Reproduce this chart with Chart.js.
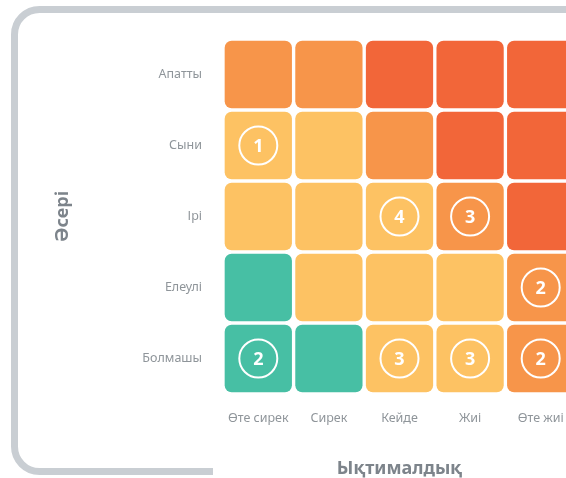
<!DOCTYPE html>
<html lang="kk">
<head>
    <meta charset="UTF-8">
    <title>Тәуекел матрицасы</title>
    <script src="https://cdn.jsdelivr.net/npm/chart.js"></script>
    <style>
        html, body {
            margin: 0;
            padding: 0;
            background: #fff;
            overflow: hidden; /* matrix runs past the right edge */
        }
        canvas { display: block; }
    </style>
</head>
<body>
    <canvas id="matrix" width="600" height="478"></canvas>
    <script>
        // Axis categories
        const likelihoodLabels = ['Өте сирек', 'Сирек', 'Кейде', 'Жиі', 'Өте жиі'];
        const impactLabels = ['Апатты', 'Сыни', 'Ірі', 'Елеулі', 'Болмашы']; // top to bottom

        // Risk level per cell (0 low .. 3 extreme), one row per impact
        const riskLevels = [
            [2, 2, 3, 3, 3],
            [1, 1, 2, 3, 3],
            [1, 1, 1, 2, 3],
            [0, 1, 1, 1, 2],
            [0, 0, 1, 1, 2]
        ];
        const levelColors = ['#47bfa4', '#fdc263', '#f7954a', '#f26639'];

        // Number of risks sitting in a cell
        const riskImpact = ['Сыни', 'Ірі', 'Ірі', 'Елеулі', 'Болмашы', 'Болмашы', 'Болмашы', 'Болмашы'];
        const riskLikelihood = ['Өте сирек', 'Кейде', 'Жиі', 'Өте жиі', 'Өте сирек', 'Кейде', 'Жиі', 'Өте жиі'];
        const riskCount = [1, 4, 3, 2, 2, 3, 3, 2];

        const labelFont = { family: 'Noto Sans', size: 12.5 };
        const titleFont = { family: 'Noto Sans', size: 18, weight: 'bold' };

        // one floating-bar dataset per impact row
        const cellDatasets = impactLabels.map((row, i) => ({
            type: 'bar',
            label: row,
            order: 1, // keep cells under the circles
            data: likelihoodLabels.map(() => [i, i + 1]),
            backgroundColor: riskLevels[i].map(l => levelColors[l]),
            borderColor: '#ffffff',
            borderWidth: 2,
            borderSkipped: false,
            borderRadius: 9,
            barPercentage: 1,
            categoryPercentage: 1,
            grouped: false
        }));

        const circleDataset = {
            type: 'scatter',
            label: 'count',
            order: 0,
            data: riskCount.map((n, k) => ({
                x: riskLikelihood[k],
                y: impactLabels.indexOf(riskImpact[k]) + 0.5
            })),
            pointRadius: 19,
            pointHoverRadius: 19,
            pointBorderWidth: 2,
            pointBorderColor: '#ffffff',
            pointBackgroundColor: 'rgba(0,0,0,0)'
        };

        // grey rounded frame behind the matrix
        const framePlugin = {
            id: 'frame',
            beforeDraw(chart) {
                const ctx = chart.ctx;
                const r = 25;
                const left = 14.5, top = 9.5, bottom = 471.5;
                ctx.save();
                ctx.strokeStyle = '#c9ced3';
                ctx.lineWidth = 7;
                ctx.beginPath();
                ctx.moveTo(213, bottom);
                ctx.lineTo(left + r, bottom);
                ctx.arcTo(left, bottom, left, bottom - r, r);
                ctx.lineTo(left, top + r);
                ctx.arcTo(left, top, left + r, top, r);
                ctx.lineTo(chart.width, top);
                ctx.stroke();
                ctx.restore();
            }
        };

        // numbers inside the circles
        const countPlugin = {
            id: 'counts',
            afterDatasetsDraw(chart) {
                const ctx = chart.ctx;
                const meta = chart.getDatasetMeta(chart.data.datasets.length - 1);
                ctx.save();
                ctx.fillStyle = '#ffffff';
                ctx.font = 'bold 18px "Noto Sans"';
                ctx.textAlign = 'center';
                ctx.textBaseline = 'middle';
                meta.data.forEach((pt, k) => ctx.fillText(String(riskCount[k]), pt.x, pt.y + 1));
                ctx.restore();
            }
        };

        new Chart(document.getElementById('matrix'), {
            type: 'bar',
            data: {
                labels: likelihoodLabels,
                datasets: [...cellDatasets, circleDataset]
            },
            options: {
                responsive: false,
                animation: false,
                events: [],
                layout: { padding: { top: 39, right: 24, left: 0, bottom: 0 } },
                plugins: {
                    legend: { display: false },
                    tooltip: { enabled: false }
                },
                scales: {
                    x: {
                        type: 'category',
                        grid: { display: false, drawTicks: false },
                        border: { display: false },
                        ticks: { color: '#8f959a', font: labelFont, padding: 17 },
                        title: {
                            display: true,
                            text: 'Ықтималдық',
                            color: '#7d848b',
                            font: titleFont,
                            padding: { top: 0, bottom: -2 }
                        },
                        afterFit(s) { s.height = 84; }
                    },
                    y: {
                        type: 'linear',
                        min: 0,
                        max: 5,
                        reverse: true,
                        grid: { display: false, drawTicks: false },
                        border: { display: false },
                        afterBuildTicks(s) {
                            s.ticks = impactLabels.map((_, i) => ({ value: i + 0.5 }));
                        },
                        ticks: {
                            color: '#8f959a',
                            font: labelFont,
                            padding: 21,
                            callback: v => impactLabels[Math.floor(v)]
                        },
                        title: {
                            display: true,
                            text: 'Әсері',
                            color: '#7d848b',
                            font: titleFont,
                            padding: { top: 52, bottom: 0 }
                        },
                        afterFit(s) { s.width = 223; }
                    }
                }
            },
            plugins: [framePlugin, countPlugin]
        });
    </script>
</body>
</html>
